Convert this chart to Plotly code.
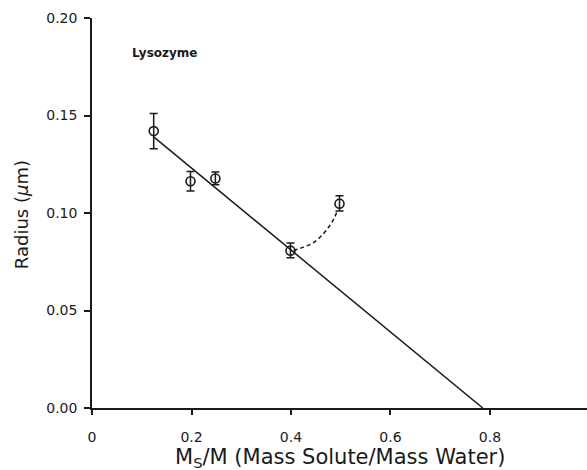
import plotly.graph_objects as go

# Data
ratio = [0.124, 0.198, 0.248, 0.399, 0.4975]
radius = [0.142, 0.1163, 0.1177, 0.0807, 0.1048]
err_plus = [0.009, 0.005, 0.0033, 0.0039, 0.004]
err_minus = [0.009, 0.005, 0.0032, 0.0037, 0.0038]

fit_x = [0.124, 0.7855]
fit_y = [0.139, 0.0]

curve_x = [0.405, 0.425, 0.444, 0.462, 0.477, 0.487, 0.493]
curve_y = [0.0808, 0.0825, 0.0846, 0.0885, 0.0932, 0.0975, 0.1010]

x_ticks = [0, 0.2, 0.4, 0.6, 0.8]
x_tick_text = ["0", "0.2", "0.4", "0.6", "0.8"]
y_ticks = [0.0, 0.05, 0.10, 0.15, 0.20]
y_tick_text = ["0.00", "0.05", "0.10", "0.15", "0.20"]

FONT = "DejaVu Sans"
INK = "#1a1a1a"

fig = go.Figure()
fig.add_trace(go.Scatter(x=fit_x, y=fit_y, mode="lines",
                         line=dict(color=INK, width=1.5), showlegend=False))
fig.add_trace(go.Scatter(x=curve_x, y=curve_y, mode="lines",
                         line=dict(color=INK, width=1.5, dash="4px,3px", shape="spline"),
                         showlegend=False))
fig.add_trace(go.Scatter(
    x=ratio, y=radius, mode="markers",
    marker=dict(symbol="circle-open", size=9, color=INK, line=dict(width=1.6)),
    error_y=dict(type="data", symmetric=False, array=err_plus, arrayminus=err_minus,
                 color=INK, thickness=1.5, width=4),
    showlegend=False))

fig.add_annotation(x=0.0764, y=0.182, xref="x", yref="y", text="<b>Lysozyme</b>",
                   showarrow=False, xanchor="left", yanchor="middle",
                   font=dict(family=FONT, size=12, color=INK))
fig.add_annotation(x=0.501, y=-0.128, xref="paper", yref="paper",
                   text="M<sub>S</sub>/M (Mass Solute/Mass Water)",
                   showarrow=False, xanchor="center", yanchor="middle",
                   font=dict(family=FONT, size=21, color=INK))
fig.add_annotation(x=-0.141, y=0.495, xref="paper", yref="paper",
                   text="Radius (<i>μ</i>m)", textangle=-90,
                   showarrow=False, xanchor="center", yanchor="middle",
                   font=dict(family=FONT, size=18, color=INK))

fig.update_layout(
    width=587, height=470,
    margin=dict(l=92, r=0, t=18, b=62),
    paper_bgcolor="white", plot_bgcolor="white",
    font=dict(family=FONT, color=INK),
    hovermode=False,
    xaxis=dict(range=[0, 0.995], tickvals=x_ticks, ticktext=x_tick_text, automargin=False,
               showgrid=False, zeroline=False, showline=True, linecolor=INK, linewidth=1.5,
               ticks="outside", ticklen=5, tickwidth=1.5, tickcolor=INK,
               tickfont=dict(size=14, family=FONT, color=INK), ticklabelstandoff=10),
    yaxis=dict(range=[0, 0.20], tickvals=y_ticks, ticktext=y_tick_text, automargin=False,
               showgrid=False, zeroline=False, showline=True, linecolor=INK, linewidth=1.5,
               ticks="outside", ticklen=6, tickwidth=1.5, tickcolor=INK,
               tickfont=dict(size=14, family=FONT, color=INK), ticklabelstandoff=4),
)

# remove the default page margin so the figure sits at the window's top-left corner
fig.write_html("out.html", config={"displayModeBar": False},
               post_script="document.body.style.margin='0';document.body.style.overflow='hidden';")
